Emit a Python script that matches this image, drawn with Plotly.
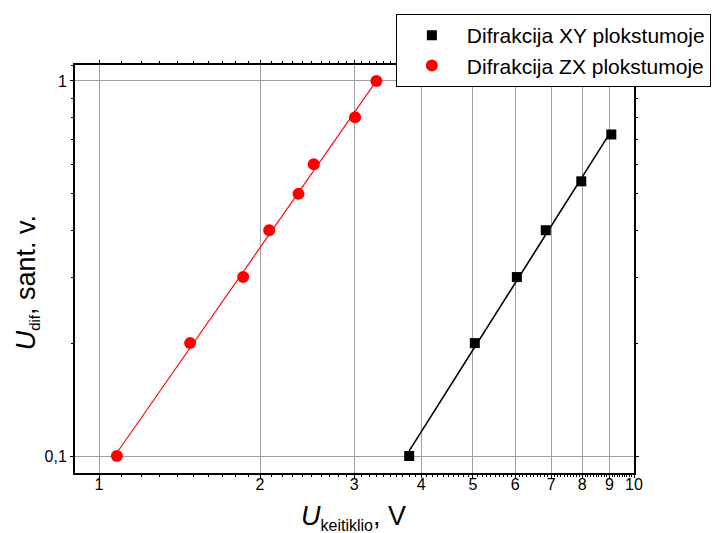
import numpy as np
import plotly.graph_objects as go

# ---- data ----
xy_u = [3.80, 5.04, 6.04, 6.84, 7.97, 9.07]
xy_dif = [0.10, 0.20, 0.30, 0.40, 0.54, 0.72]

zx_u = [1.08, 1.48, 1.86, 2.08, 2.36, 2.52, 3.01, 3.30]
zx_dif = [0.10, 0.20, 0.30, 0.40, 0.50, 0.60, 0.80, 1.00]

x_tickvals = [1, 2, 3, 4, 5, 6, 7, 8, 9, 10]
x_ticktext = ["1", "2", "3", "4", "5", "6", "7", "8", "9", "10"]
y_tickvals = [0.1, 1]
y_ticktext = ["0,1", "1"]

name_xy = "Difrakcija XY plokstumoje"
name_zx = "Difrakcija ZX plokstumoje"


def power_fit(x, y):
    lx, ly = np.log10(x), np.log10(y)
    k, b = np.polyfit(lx, ly, 1)
    xs = np.array([min(x), max(x)])
    return xs, 10 ** (k * np.log10(xs) + b)


FONT = "Liberation Sans, Arial, sans-serif"

fig = go.Figure()

fx, fy = power_fit(xy_u, xy_dif)
fig.add_trace(go.Scatter(x=fx, y=fy, mode="lines", line=dict(color="black", width=1.6),
                         showlegend=False, hoverinfo="skip"))
fx2, fy2 = power_fit(zx_u, zx_dif)
fig.add_trace(go.Scatter(x=fx2, y=fy2, mode="lines", line=dict(color="red", width=1.1),
                         showlegend=False, hoverinfo="skip"))

fig.add_trace(go.Scatter(x=xy_u, y=xy_dif, mode="markers", name=name_xy,
                         marker=dict(symbol="square", size=10, color="black")))
fig.add_trace(go.Scatter(x=zx_u, y=zx_dif, mode="markers", name=name_zx,
                         marker=dict(symbol="circle", size=12, color="red")))

x_minor = [v for v in np.round(np.arange(0.9, 10.0001, 0.1), 2) if v not in x_tickvals]
y_minor = [v for v in np.round(np.arange(0.09, 1.10001, 0.01), 3)
           if v not in y_tickvals and (v < 0.1 or abs(v * 10 - round(v * 10)) < 1e-6)]

axis_common = dict(
    type="log",
    showline=True, linecolor="black", linewidth=2, mirror="allticks",
    ticks="outside", ticklen=3, tickwidth=1, tickcolor="black",
    showgrid=True, gridcolor="#a0a0a0", gridwidth=1,
    zeroline=False,
    tickfont=dict(family=FONT, size=16, color="black"),
)

fig.update_layout(
    width=720, height=533,
    paper_bgcolor="white", plot_bgcolor="white",
    margin=dict(l=75, r=86, t=65, b=60, autoexpand=False),
    xaxis=dict(axis_common, range=[np.log10(0.9018), 1.0],
               tickmode="array", tickvals=x_tickvals, ticktext=x_ticktext,
               ticklabelstandoff=-7,
               minor=dict(tickvals=x_minor, ticks="outside", ticklen=2,
                          tickcolor="black", showgrid=False)),
    yaxis=dict(axis_common, range=[np.log10(0.0901), np.log10(1.103)],
               tickmode="array", tickvals=y_tickvals, ticktext=y_ticktext,
               minor=dict(tickvals=y_minor, ticks="outside", ticklen=2,
                          tickcolor="black", showgrid=False)),
    legend=dict(x=0.574, y=1.125, xanchor="left", yanchor="top",
                font=dict(family=FONT, size=21, color="black"),
                bordercolor="black", borderwidth=1, bgcolor="white",
                itemwidth=60, tracegroupgap=0),
    annotations=[
        dict(text="<i>U</i><sub><span style='font-size:15px'>dif</span></sub>, sant. v.",
             xref="paper", yref="paper", x=-0.085, y=0.466,
             xanchor="center", yanchor="middle", textangle=-90, showarrow=False,
             font=dict(family=FONT, size=27, color="black")),
        dict(text="<i>U</i><sub><span style='font-size:16px'>keitiklio</span></sub>, V",
             xref="paper", yref="paper", x=0.499, y=-0.064,
             xanchor="center", yanchor="top", showarrow=False,
             font=dict(family=FONT, size=27, color="black")),
    ],
)

fig.write_html("out.html")
